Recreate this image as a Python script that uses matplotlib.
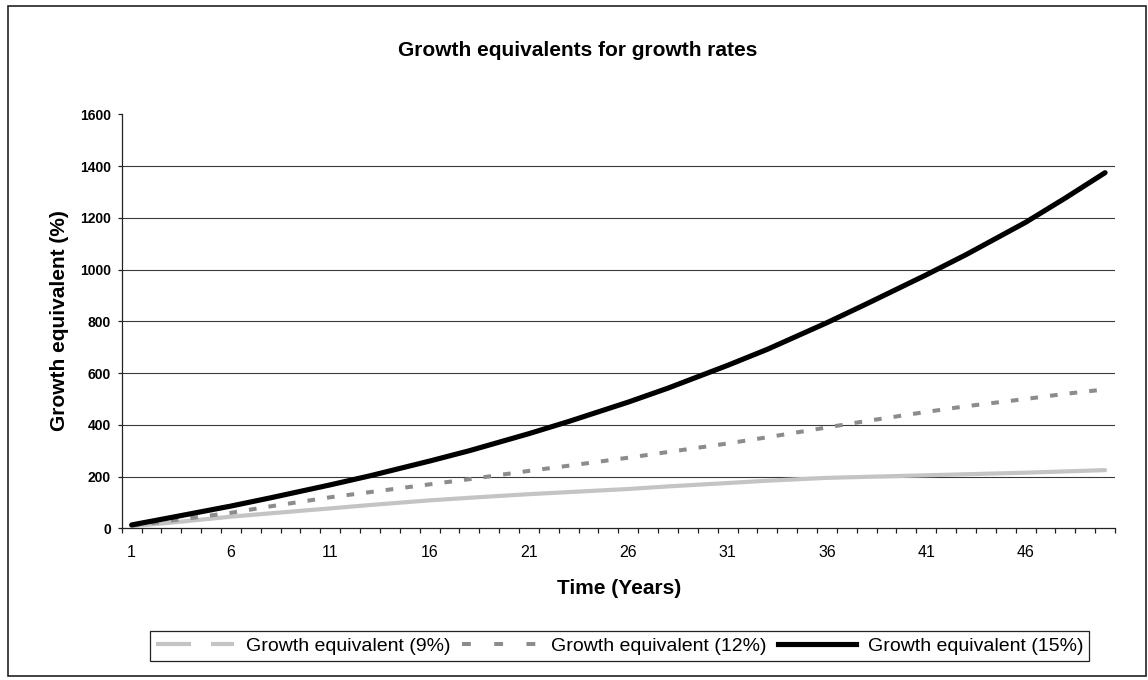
import matplotlib
matplotlib.use("Agg")
import matplotlib.pyplot as plt
from matplotlib.lines import Line2D
from matplotlib.patches import Rectangle
from matplotlib.ticker import FixedLocator, NullFormatter

plt.rcParams['font.family'] = ['Liberation Sans', 'DejaVu Sans']

# growth equivalent (%) per year, read off roughly every 2-3 years
years = [1, 3, 6, 8, 11, 13, 16, 18, 21, 23, 26, 28, 31, 33, 36, 38, 41, 43, 46, 48, 50]
ge_9 = [8, 22, 45, 58, 77, 90, 108, 118, 132, 140, 152, 162, 175, 184, 195, 199,
        205, 209, 215, 220, 225]
ge_12 = [10, 30, 60, 85, 120, 140, 170, 190, 222, 242, 273, 295, 328, 352, 390, 415,
         450, 472, 500, 520, 537]
ge_15 = [13, 42, 86, 118, 168, 203, 260, 300, 366, 413, 488, 542, 630, 692, 795, 868,
         980, 1058, 1183, 1277, 1375]

series_labels = ['Growth equivalent (9%)', 'Growth equivalent (12%)',
                 'Growth equivalent (15%)']
year_ticks = [1, 6, 11, 16, 21, 26, 31, 36, 41, 46]
value_ticks = [0, 200, 400, 600, 800, 1000, 1200, 1400, 1600]

W, H = 1148, 680
fig = plt.figure(figsize=(W / 100, H / 100), dpi=100)

# thin border round the whole chart
fig.patches.append(Rectangle((8.4 / W, 4 / H), (1146 - 8.4) / W, (674 - 4) / H,
                             transform=fig.transFigure, fill=False,
                             edgecolor='#222222', linewidth=1.2))

ax = fig.add_axes([121.7 / W, 1 - 528.3 / H, (1115 - 121.7) / W, (528.3 - 114.5) / H])

for level in value_ticks[1:-1]:
    ax.axhline(level, color='#3a3a3a', linewidth=0.8, zorder=1)

ax.plot(years, ge_9, color='#c4c4c4', linewidth=3.0, solid_capstyle='round',
        solid_joinstyle='round', zorder=3)
ax.plot(years, ge_12, color='#8c8c8c', linewidth=2.9, dashes=(1.9, 3.0), zorder=4)
ax.plot(years, ge_15, color='#000000', linewidth=3.7, solid_capstyle='round',
        solid_joinstyle='round', zorder=5)

ax.set_xlim(0.5, 50.5)
ax.set_ylim(0, 1600)

for side in ['top', 'right']:
    ax.spines[side].set_visible(False)
for side in ['left', 'bottom']:
    ax.spines[side].set_linewidth(0.9)
    ax.spines[side].set_color('#222222')

# category axis: tick marks between years, labels every fifth year
ax.xaxis.set_major_locator(FixedLocator(year_ticks))
ax.xaxis.set_minor_locator(FixedLocator([y + 0.5 for y in range(0, 51)]))
ax.xaxis.set_minor_formatter(NullFormatter())
ax.tick_params(axis='x', which='major', length=0, pad=12, labelsize=11.5)
ax.tick_params(axis='x', which='minor', length=3.8, width=0.9, direction='out',
               color='#222222')

ax.set_yticks(value_ticks)
ax.tick_params(axis='y', length=3.2, width=0.9, direction='out', pad=4.5,
               labelsize=10, color='#222222')
for lab in ax.get_yticklabels():
    lab.set_fontweight('bold')

fig.text(578 / W, 1 - 50 / H, 'Growth equivalents for growth rates',
         ha='center', va='center', fontsize=15, fontweight='bold')
fig.text(59.3 / W, 1 - 321 / H, 'Growth equivalent (%)', rotation=90,
         ha='center', va='center', fontsize=15, fontweight='bold')
fig.text(618.7 / W, 1 - 588 / H, 'Time (Years)',
         ha='center', va='center', fontsize=15, fontweight='bold')

handles = [
    Line2D([], [], color='#c4c4c4', linewidth=3.0, dashes=(8.4, 4.8)),
    Line2D([], [], color='#8c8c8c', linewidth=2.9, dashes=(2.2, 5.8)),
    Line2D([], [], color='#000000', linewidth=3.7),
]
leg = fig.legend(handles, series_labels, loc='center',
                 bbox_to_anchor=(619.8 / W, 1 - 646 / H), ncol=3,
                 fontsize=14, handlelength=4.0, handletextpad=0.6,
                 columnspacing=0.6, borderpad=0.3, fancybox=False,
                 framealpha=1, edgecolor='#222222')
leg.get_frame().set_linewidth(0.9)

fig.savefig('out.png', dpi=100)
